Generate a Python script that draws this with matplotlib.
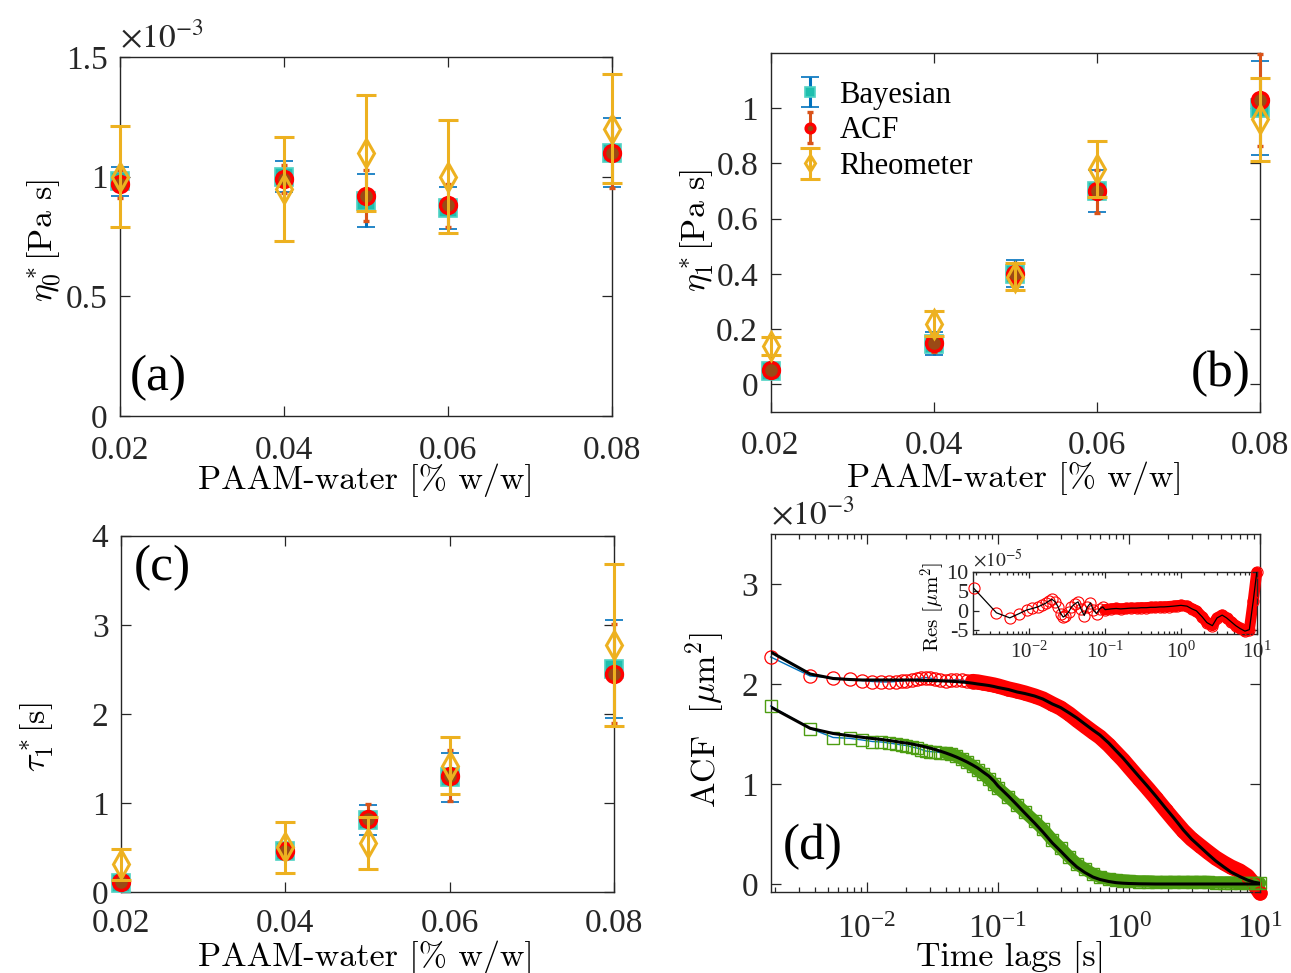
import matplotlib
matplotlib.use("Agg")
import matplotlib.pyplot as plt
from matplotlib.ticker import FuncFormatter, FixedLocator, LogLocator, NullFormatter

plt.rcParams['font.family'] = ['Liberation Serif', 'DejaVu Serif']
plt.rcParams['mathtext.fontset'] = 'stix'

# ---------------- data ----------------
conc = [0.02, 0.04, 0.05, 0.06, 0.08]   # PAAM concentration [% w/w]

# (a) zero-shear solvent viscosity eta0* [Pa s]
eta0_bayes = [0.98e-3, 1.00e-3, 0.90e-3, 0.87e-3, 1.10e-3]
eta0_bayes_err = [0.060e-3, 0.065e-3, 0.110e-3, 0.088e-3, 0.145e-3]
eta0_acf = [0.97e-3, 0.99e-3, 0.92e-3, 0.88e-3, 1.10e-3]
eta0_acf_err = [0.058e-3, 0.060e-3, 0.107e-3, 0.090e-3, 0.147e-3]
eta0_rheo = [1.00e-3, 0.95e-3, 1.10e-3, 1.00e-3, 1.20e-3]
eta0_rheo_err = [0.212e-3, 0.217e-3, 0.242e-3, 0.235e-3, 0.227e-3]

# (b) polymer viscosity eta1* [Pa s]
eta1_bayes = [0.050, 0.148, 0.400, 0.700, 1.000]
eta1_bayes_err = [0.020, 0.040, 0.049, 0.077, 0.170]
eta1_acf = [0.052, 0.150, 0.400, 0.700, 1.030]
eta1_acf_err = [0.015, 0.033, 0.040, 0.078, 0.168]
eta1_rheo = [0.140, 0.220, 0.390, 0.780, 0.960]
eta1_rheo_err = [0.032, 0.045, 0.050, 0.100, 0.150]

# (c) relaxation time tau1* [s]
tau_bayes = [0.100, 0.456, 0.806, 1.290, 2.500]
tau_bayes_err = [0.050, 0.080, 0.170, 0.275, 0.550]
tau_acf = [0.108, 0.463, 0.820, 1.306, 2.450]
tau_acf_err = [0.040, 0.070, 0.170, 0.290, 0.557]
tau_rheo = [0.310, 0.500, 0.550, 1.420, 2.770]
tau_rheo_err = [0.170, 0.290, 0.290, 0.320, 0.910]

# (d) autocorrelation of bead position, two samples [um^2]
lags = [0.00184, 0.00368, 0.00552, 0.00736, 0.0092, 0.011, 0.0129, 0.0147,
        0.0166, 0.0184, 0.020, 0.022, 0.024, 0.026, 0.028, 0.030, 0.033,
        0.036, 0.040, 0.044, 0.048, 0.053, 0.058, 0.064, 0.070, 0.077,
        0.085, 0.093, 0.10, 0.12, 0.14, 0.16, 0.19, 0.22, 0.26, 0.30, 0.35,
        0.40, 0.46, 0.53, 0.60, 0.70, 0.80, 0.90, 1.0, 1.2, 1.4, 1.6, 1.9,
        2.2, 2.6, 3.0, 3.5, 4.0, 4.6, 5.3, 6.0, 7.0, 8.0, 9.0, 10.0]

acf_red = [2.27, 2.08, 2.06, 2.05, 2.035, 2.025, 2.02, 2.02, 2.025, 2.03,
           2.035, 2.04, 2.05, 2.06, 2.065, 2.06, 2.05, 2.04, 2.035, 2.04,
           2.045, 2.04, 2.03, 2.025, 2.02, 2.01, 2.00, 1.99, 1.98, 1.95, 1.93,
           1.91, 1.88, 1.85, 1.80, 1.76, 1.70, 1.64, 1.58, 1.52, 1.47, 1.39,
           1.31, 1.24, 1.17, 1.05, 0.95, 0.86, 0.74, 0.64, 0.53, 0.45, 0.38,
           0.32, 0.26, 0.21, 0.17, 0.13, 0.08, 0.00, -0.09]
fit_red = [2.32, 2.10, 2.055, 2.045, 2.04, 2.04, 2.04, 2.04, 2.04, 2.04,
           2.04, 2.04, 2.038, 2.037, 2.036, 2.035, 2.034, 2.032, 2.03, 2.027,
           2.024, 2.02, 2.015, 2.008, 2.00, 1.993, 1.985, 1.975, 1.965, 1.945,
           1.92, 1.905, 1.88, 1.85, 1.80, 1.765, 1.71, 1.66, 1.60, 1.54, 1.49,
           1.41, 1.33, 1.26, 1.19, 1.07, 0.97, 0.88, 0.76, 0.66, 0.54, 0.45,
           0.37, 0.30, 0.23, 0.17, 0.12, 0.075, 0.04, 0.018, 0.007]

acf_green = [1.78, 1.555, 1.465, 1.457, 1.44, 1.425, 1.42, 1.41, 1.40, 1.39,
             1.385, 1.37, 1.36, 1.345, 1.33, 1.325, 1.32, 1.315, 1.31, 1.30,
             1.28, 1.25, 1.22, 1.18, 1.14, 1.10, 1.05, 1.00, 0.96, 0.87, 0.79,
             0.72, 0.63, 0.55, 0.44, 0.36, 0.27, 0.20, 0.15, 0.10, 0.07, 0.05,
             0.04, 0.035, 0.03, 0.025, 0.025, 0.02, 0.02, 0.02, 0.02, 0.02,
             0.02, 0.02, 0.015, 0.015, 0.015, 0.01, 0.01, 0.01, 0.01]
fit_green = [1.77, 1.557, 1.505, 1.483, 1.467, 1.455, 1.445, 1.435, 1.425,
             1.415, 1.41, 1.40, 1.39, 1.38, 1.37, 1.36, 1.345, 1.33, 1.31,
             1.29, 1.27, 1.245, 1.22, 1.19, 1.16, 1.12, 1.08, 1.03, 0.98,
             0.88, 0.79, 0.71, 0.61, 0.52, 0.41, 0.33, 0.24, 0.17, 0.115, 0.07,
             0.045, 0.025, 0.013, 0.008, 0.005, 0.002, 0.001, 0.0, 0.0, 0.0,
             0.0, 0.0, 0.0, 0.0, 0.0, 0.0, 0.0, 0.0, 0.0, 0.0, 0.0]

# residual of the red fit [um^2, x1e-5]
res_red = [5.8, -0.5, -1.8, -0.7, 0.2, 0.6, 1.0, 1.5, 2.0, 2.6, 2.9, 2.3,
           1.0, -0.7, -1.6, -1.2, -0.3, 1.0, 1.8, 2.3, 0.5, -1.2, 0.9, 2.0,
           0.2, -0.7, 0.5, 1.0, 0.3, 0.5, 0.6, 0.5, 0.6, 0.7, 0.7, 0.8, 0.8,
           0.9, 0.9, 1.0, 1.0, 1.1, 1.2, 1.3, 1.4, 1.2, 0.5, 0.0, -1.5, -3.0,
           -3.8, -1.8, -1.1, -1.8, -2.8, -3.8, -4.5, -5.2, -4.8, 2.5, 9.8]

# ---------------- styles ----------------
C_BAYES_BAR = '#0072BD'
C_BAYES_FACE = '#1FBFAE'
C_ACF_BAR = '#D95319'
C_ACF_FACE = '#9A4A16'
C_RHEO = '#EDB120'
C_RED = '#FF0000'
C_GREEN = '#4D9E12'
C_AX = '#262626'
LABEL_FONT = dict(fontfamily='cmr10', math_fontfamily='cm', fontsize=24.5)

W, H = 1291, 973
fig = plt.figure(figsize=(W / 100, H / 100), dpi=100)


def frac(left, top, right, bottom):
    return [left / W, 1 - bottom / H, (right - left) / W, (bottom - top) / H]


def style_axes(ax, tick_size=24, major_len=7, minor_len=3.5, xpad=13, ypad=9):
    for s in ax.spines.values():
        s.set_color(C_AX)
        s.set_linewidth(1.0)
    ax.tick_params(which='both', direction='in', top=True, right=True,
                   colors=C_AX, labelcolor=C_AX, width=0.9)
    ax.tick_params(which='major', length=major_len, labelsize=tick_size)
    ax.tick_params(axis='x', which='major', pad=xpad)
    ax.tick_params(axis='y', which='major', pad=ypad)
    ax.tick_params(which='minor', length=minor_len)


def g_fmt(scale=1.0):
    return FuncFormatter(lambda v, p: '%g' % round(v / scale, 6))


def scatter_panel(ax, yb, eb, ya, ea, yr, er):
    hb = ax.errorbar(conc, yb, yerr=eb, fmt='s', ms=13, mfc=C_BAYES_FACE,
                     mec='#4FD2C4', mew=1.2, ecolor=C_BAYES_BAR, elinewidth=2.2,
                     capsize=6.5, capthick=2.6, zorder=3, label='Bayesian')
    ha = ax.errorbar(conc, ya, yerr=ea, fmt='o', ms=11.5, mfc=C_ACF_FACE,
                     mec=C_RED, mew=2.4, ecolor=C_ACF_BAR, elinewidth=2.2,
                     capsize=2.5, capthick=2.6, zorder=4, label='ACF')
    hr = ax.errorbar(conc, yr, yerr=er, fmt='d', ms=14, mfc='none',
                     mec=C_RHEO, mew=2.2, ecolor=C_RHEO, elinewidth=2.2,
                     capsize=7.5, capthick=2.6, zorder=5, label='Rheometer')
    for h in (hb, ha, hr):
        for art in h.get_children():
            art.set_clip_on(False)
    ax.set_xlim(0.02, 0.08)
    ax.xaxis.set_major_locator(FixedLocator([0.02, 0.04, 0.06, 0.08]))
    ax.xaxis.set_major_formatter(g_fmt())
    return hb, ha, hr


# ---------------- (a) ----------------
ax_a = fig.add_axes(frac(120, 57, 612, 416))
style_axes(ax_a, xpad=14)
scatter_panel(ax_a, eta0_bayes, eta0_bayes_err, eta0_acf, eta0_acf_err,
              eta0_rheo, eta0_rheo_err)
ax_a.set_ylim(0, 1.5e-3)
ax_a.yaxis.set_major_locator(FixedLocator([0, 0.5e-3, 1.0e-3, 1.5e-3]))
ax_a.yaxis.set_major_formatter(g_fmt(1e-3))
ax_a.text(0.0, 1.008, r'$\times10^{-3}$', transform=ax_a.transAxes,
          fontsize=24, color=C_AX, ha='left', va='bottom')
ax_a.set_ylabel(r'$\eta_0^*$[Pa s]', **LABEL_FONT)
ax_a.set_xlabel('PAAM-water [% w/w]', **LABEL_FONT)
ax_a.text(0.02, 0.04, '(a)', transform=ax_a.transAxes, fontsize=37,
          ha='left', va='bottom')

# ---------------- (b) ----------------
ax_b = fig.add_axes(frac(770.5, 53, 1260, 412))
style_axes(ax_b, xpad=13)
hb, ha, hr = scatter_panel(ax_b, eta1_bayes, eta1_bayes_err, eta1_acf,
                           eta1_acf_err, eta1_rheo, eta1_rheo_err)
ax_b.set_ylim(-0.1, 1.2)
ax_b.yaxis.set_major_locator(FixedLocator([0, 0.2, 0.4, 0.6, 0.8, 1.0]))
ax_b.yaxis.set_major_formatter(g_fmt())
ax_b.set_ylabel(r'$\eta_1^*$[Pa s]', **LABEL_FONT)
ax_b.set_xlabel('PAAM-water [% w/w]', **LABEL_FONT)
ax_b.text(0.98, 0.04, '(b)', transform=ax_b.transAxes, fontsize=37,
          ha='right', va='bottom')
leg = ax_b.legend(handles=[hb, ha, hr], loc='upper left',
                  bbox_to_anchor=(0.0, 1.0), frameon=False, fontsize=22,
                  handlelength=0.8, handletextpad=0.55, labelspacing=0.22,
                  markerscale=0.55)

# ---------------- (c) ----------------
ax_c = fig.add_axes(frac(121, 535.7, 614, 892))
style_axes(ax_c, xpad=12)
scatter_panel(ax_c, tau_bayes, tau_bayes_err, tau_acf, tau_acf_err,
              tau_rheo, tau_rheo_err)
ax_c.set_ylim(0, 4)
ax_c.yaxis.set_major_locator(FixedLocator([0, 1, 2, 3, 4]))
ax_c.yaxis.set_major_formatter(g_fmt())
ax_c.set_ylabel(r'$\tau_1^*$[s]', **LABEL_FONT)
ax_c.set_xlabel('PAAM-water [% w/w]', **LABEL_FONT)
ax_c.text(0.025, 0.975, '(c)', transform=ax_c.transAxes, fontsize=37,
          ha='left', va='top')

# ---------------- (d) ----------------
ax_d = fig.add_axes(frac(770.7, 534, 1260, 892))
style_axes(ax_d, xpad=16)
ax_d.set_xscale('log')

red_dense = [i for i, t in enumerate(lags) if t >= 0.064]
green_dense = [i for i, t in enumerate(lags) if t >= 0.04]

ax_d.plot(lags, [v * 1e-3 for v in acf_red], color=C_BAYES_BAR, lw=1.0,
          zorder=2, clip_on=False)
ax_d.plot([lags[i] for i in red_dense], [acf_red[i] * 1e-3 for i in red_dense],
          color=C_RED, lw=11, solid_capstyle='round',
          solid_joinstyle='round', zorder=2, clip_on=False)
ax_d.plot(lags, [v * 1e-3 for v in acf_red], ls='none', marker='o', ms=9.5,
          mfc='none', mec=C_RED, mew=0.9, zorder=3, clip_on=False)

ax_d.plot(lags, [v * 1e-3 for v in acf_green], color=C_BAYES_BAR, lw=1.0,
          zorder=2, clip_on=False)
ax_d.plot([lags[i] for i in green_dense],
          [acf_green[i] * 1e-3 for i in green_dense], color=C_GREEN, lw=9,
          solid_capstyle='round', solid_joinstyle='round', zorder=2,
          clip_on=False)
ax_d.plot(lags, [v * 1e-3 for v in acf_green], ls='none', marker='s', ms=8,
          mfc='none', mec=C_GREEN, mew=1.0, zorder=3, clip_on=False)

ax_d.plot(lags, [v * 1e-3 for v in fit_red], color='black', lw=2.2, zorder=4)
ax_d.plot(lags, [v * 1e-3 for v in fit_green], color='black', lw=2.2, zorder=4)

ax_d.set_xlim(0.00184, 10)
ax_d.set_ylim(-0.08e-3, 3.5e-3)
ax_d.xaxis.set_major_locator(LogLocator(base=10, numticks=10))
ax_d.xaxis.set_minor_locator(LogLocator(base=10, subs=range(2, 10), numticks=20))
ax_d.xaxis.set_minor_formatter(NullFormatter())
ax_d.yaxis.set_major_locator(FixedLocator([0, 1e-3, 2e-3, 3e-3]))
ax_d.yaxis.set_major_formatter(g_fmt(1e-3))
ax_d.text(0.0, 1.008, r'$\times10^{-3}$', transform=ax_d.transAxes,
          fontsize=24, color=C_AX, ha='left', va='bottom')
ax_d.set_ylabel(r'ACF  [$\mu$m$^2$]', **LABEL_FONT)
ax_d.set_xlabel('Time lags [s]', **LABEL_FONT)
ax_d.text(0.025, 0.06, '(d)', transform=ax_d.transAxes, fontsize=37,
          ha='left', va='bottom')

# ---------------- inset: residuals ----------------
ax_i = fig.add_axes(frac(972.7, 571.7, 1256.7, 634.3))
style_axes(ax_i, tick_size=15, major_len=4, minor_len=2, xpad=5, ypad=3)
ax_i.tick_params(axis='y', labelsize=16)
ax_i.set_xscale('log')
res_dense = [i for i, t in enumerate(lags) if t >= 0.1]
ax_i.plot([lags[i] for i in res_dense], [res_red[i] * 1e-5 for i in res_dense],
          color=C_RED, lw=8, solid_capstyle='round',
          solid_joinstyle='round', zorder=2, clip_on=False)
ax_i.plot(lags, [v * 1e-5 for v in res_red], ls='none', marker='o', ms=8,
          mfc='none', mec=C_RED, mew=0.8, zorder=3, clip_on=False)
ax_i.plot(lags, [v * 1e-5 for v in res_red], color='black', lw=0.9, zorder=4)
ax_i.set_xlim(0.00179, 10)
ax_i.set_ylim(-6e-5, 10e-5)
ax_i.xaxis.set_major_locator(LogLocator(base=10, numticks=10))
ax_i.xaxis.set_minor_locator(LogLocator(base=10, subs=range(2, 10), numticks=20))
ax_i.xaxis.set_minor_formatter(NullFormatter())
ax_i.yaxis.set_major_locator(FixedLocator([-5e-5, 0, 5e-5, 10e-5]))
ax_i.yaxis.set_major_formatter(g_fmt(1e-5))
ax_i.text(0.0, 1.02, r'$\times10^{-5}$', transform=ax_i.transAxes,
          fontsize=14, color=C_AX, ha='left', va='bottom')
ax_i.set_ylabel(r'Res [$\mu$m$^2$]', fontfamily='cmr10', math_fontfamily='cm',
                fontsize=15)

# ---------------- label placement ----------------
def place_ylabel(ax, xpix, ypix):
    bb = ax.get_position()
    x = (xpix / W - bb.x0) / bb.width
    y = ((1 - ypix / H) - bb.y0) / bb.height
    ax.yaxis.set_label_coords(x, y)
    ax.yaxis.label.set_va('center')


def place_xlabel(ax, xpix, ypix):
    bb = ax.get_position()
    x = (xpix / W - bb.x0) / bb.width
    y = ((1 - ypix / H) - bb.y0) / bb.height
    ax.xaxis.set_label_coords(x, y)
    ax.xaxis.label.set_va('center')


place_ylabel(ax_a, 44, 240)
place_ylabel(ax_b, 697, 230)
place_ylabel(ax_c, 37, 737)
place_ylabel(ax_d, 705, 720)
place_ylabel(ax_i, 933, 607)
place_xlabel(ax_a, 366, 480)
place_xlabel(ax_b, 1015, 478)
place_xlabel(ax_c, 366, 957)
place_xlabel(ax_d, 1010, 958)

fig.savefig('out.png', dpi=100)
